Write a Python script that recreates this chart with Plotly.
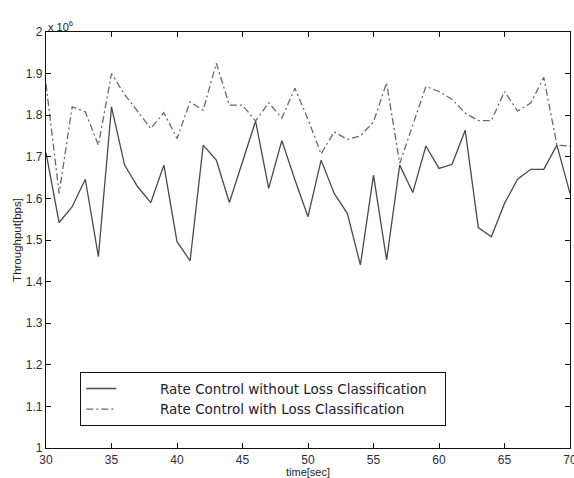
import plotly.graph_objects as go

time_sec = list(range(30, 71))
without_lc = [1.71, 1.542, 1.58, 1.646, 1.46, 1.82, 1.68, 1.628, 1.59, 1.68,
              1.496, 1.45, 1.728, 1.692, 1.59, 1.688, 1.786, 1.624, 1.739, 1.645,
              1.556, 1.692, 1.612, 1.564, 1.44, 1.656, 1.452, 1.68, 1.614, 1.726,
              1.672, 1.682, 1.764, 1.53, 1.508, 1.588, 1.646, 1.67, 1.67, 1.728,
              1.612]
with_lc = [1.875, 1.612, 1.82, 1.808, 1.728, 1.90, 1.85, 1.81, 1.768, 1.806,
           1.744, 1.832, 1.812, 1.925, 1.824, 1.824, 1.786, 1.83, 1.793, 1.865,
           1.79, 1.707, 1.76, 1.742, 1.75, 1.784, 1.878, 1.684, 1.776, 1.869,
           1.857, 1.838, 1.805, 1.787, 1.787, 1.857, 1.81, 1.829, 1.891, 1.728,
           1.726]
x_ticks = [30, 35, 40, 45, 50, 55, 60, 65, 70]
y_ticks = [1, 1.1, 1.2, 1.3, 1.4, 1.5, 1.6, 1.7, 1.8, 1.9, 2]
y_tick_text = ["1", "1.1", "1.2", "1.3", "1.4", "1.5", "1.6", "1.7", "1.8", "1.9", "2"]

NB = "\u00a0"
name1 = NB * 9 + "Rate Control without Loss Classification" + NB * 3
name2 = NB * 9 + "Rate Control with Loss Classification"

font_family = "Liberation Sans, Arial, sans-serif"

fig = go.Figure()
fig.add_trace(go.Scatter(x=time_sec, y=without_lc, mode="lines", name=name1,
                         line=dict(color="#4a4a4a", width=1.3, dash="solid")))
fig.add_trace(go.Scatter(x=time_sec, y=with_lc, mode="lines", name=name2,
                         line=dict(color="#6a6a6a", width=1.3, dash="7px,3px,2px,3px")))

axis_common = dict(showgrid=False, zeroline=False, showline=True, linecolor="#111",
                   linewidth=1.3, ticks="inside", ticklen=5, tickcolor="#111",
                   tickwidth=1.3, mirror="allticks", automargin=False,
                   ticklabeloverflow="allow",
                   tickfont=dict(family=font_family, size=12, color="#2a2d3a"))

fig.update_xaxes(range=[30, 70], tickvals=x_ticks, **axis_common,
                 title=dict(text="time[sec]", font=dict(family=font_family, size=11, color="#222"),
                            standoff=2))
fig.update_yaxes(range=[1, 2], tickvals=y_ticks, ticktext=y_tick_text, **axis_common,
                 title=dict(text="Throughput[bps]", font=dict(family=font_family, size=11.5, color="#222"),
                            standoff=1))

fig.add_annotation(text="x 10<sup>6</sup>", xref="paper", yref="paper", x=0, y=1,
                   xanchor="left", yanchor="bottom", showarrow=False,
                   font=dict(family=font_family, size=11, color="#222"), yshift=-3)

fig.update_layout(
    width=574, height=478,
    margin=dict(l=46, r=4, t=32, b=30),
    paper_bgcolor="white", plot_bgcolor="white",
    font=dict(family=font_family, color="#222"),
    showlegend=True,
    legend=dict(x=0.0649, y=0.118, xanchor="left", yanchor="middle",
                bgcolor="white", bordercolor="#111", borderwidth=1.3,
                font=dict(family="DejaVu Sans, sans-serif", size=13.5, color="#1e2035"),
                tracegroupgap=0, itemwidth=30),
)

fig.write_html("out.html", config={"displayModeBar": False},
               post_script="document.body.style.margin='0';document.body.style.overflow='hidden';")
